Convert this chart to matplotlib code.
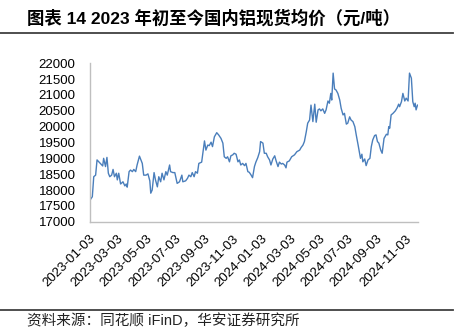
import matplotlib
matplotlib.use("Agg")
import matplotlib.pyplot as plt
import pandas as pd

plt.rcParams['font.family'] = ['Liberation Sans', 'Noto Sans CJK SC', 'DejaVu Sans']

title = "图表 14 2023 年初至今国内铝现货均价（元/吨）"
source = "资料来源：同花顺 iFinD，华安证券研究所"
start_date = "2023-01-03"

# days since 2023-01-03
day_offsets = [0, 2, 6, 9, 13, 16, 23, 28, 30, 34, 37, 40, 43, 47, 50, 53, 57, 59, 62, 66,
               71, 75, 78, 80, 84, 87, 91, 94, 98, 101, 106, 112, 115, 120, 124, 128, 130, 133, 137, 140,
               144, 147, 151, 154, 158, 162, 165, 170, 172, 177, 181, 186, 191, 196, 198, 204, 208, 211, 215, 218,
               222, 225, 229, 232, 238, 240, 244, 247, 251, 254, 258, 261, 265, 270, 274, 279, 283, 286, 290, 293,
               297, 300, 304, 307, 311, 315, 318, 321, 325, 329, 332, 336, 339, 343, 346, 350, 353, 357, 361, 363,
               368, 371, 375, 378, 382, 385, 389, 393, 396, 400, 403, 407, 410, 414, 417, 419, 424, 429, 435, 440,
               446, 449, 453, 456, 460, 463, 467, 470, 474, 478, 481, 485, 488, 491, 495, 499, 502, 506, 509, 512,
               514, 517, 520, 523, 527, 531, 534, 538, 541, 545, 548, 552, 555, 559, 563, 566, 570, 573, 575, 578,
               580, 584, 587, 591, 595, 598, 601, 605, 608, 611, 614, 618, 621, 625, 630, 633, 635, 637, 640, 644,
               649, 653, 656, 658, 662, 665, 669, 672, 676, 679, 683, 686, 689, 691, 693, 696]
prices = [18300, 17700, 17790, 18420, 18470, 18950, 18840, 18760, 19000, 18740, 19030, 18530, 18420, 18470, 18650, 18420, 18530, 18320, 18530, 18190,
          18260, 18130, 18190, 18090, 18580, 18630, 18580, 18650, 18580, 18790, 19070, 18840, 18470, 18470, 18510, 18290, 17900, 18000, 18550, 18320,
          18100, 18420, 18260, 18530, 18320, 18580, 18470, 18790, 18580, 18550, 18550, 18210, 18260, 18470, 18260, 18290, 18370, 18470, 18420, 18550,
          18420, 18580, 18530, 18840, 18880, 19110, 19550, 19260, 19420, 19400, 19510, 19370, 19680, 19810, 19740, 19630, 19480, 19050, 19000, 19050,
          18890, 19080, 19110, 19160, 19130, 18890, 18950, 18790, 18840, 18770, 18840, 18580, 18560, 18470, 18390, 18740, 18880, 19020, 19210, 19530,
          19480, 19160, 19160, 19050, 18950, 18790, 18980, 19080, 18920, 18740, 18880, 18820, 18840, 18790, 18700, 18880, 18920, 19050, 19110, 19210,
          19260, 19340, 19420, 19530, 19840, 20110, 20210, 20680, 20160, 20710, 20140, 20530, 20560, 20500, 20560, 20420, 20530, 20810, 20740, 21050,
          20840, 21690, 21190, 21160, 21050, 20840, 20580, 20370, 20420, 20080, 20110, 20310, 20210, 20160, 20000, 19740, 19420, 19160, 19000, 19130,
          18890, 18980, 18770, 18950, 19000, 19370, 19580, 19720, 19740, 19530, 19480, 19260, 19160, 19630, 19760, 19740, 20000, 19950, 20370, 20420,
          20500, 20600, 20710, 20630, 20790, 21050, 20810, 20900, 20810, 21690, 21530, 20790, 20630, 20740, 20530, 20680]

tick_labels = ["2023-01-03", "2023-03-03", "2023-05-03", "2023-07-03", "2023-09-03", "2023-11-03",
               "2024-01-03", "2024-03-03", "2024-05-03", "2024-07-03", "2024-09-03", "2024-11-03"]
y_ticks = [17000, 17500, 18000, 18500, 19000, 19500, 20000, 20500, 21000, 21500, 22000]

dates = pd.Timestamp(start_date) + pd.to_timedelta(day_offsets, unit="D")

fig = plt.figure(figsize=(4.61, 3.30), dpi=100)
ax = fig.add_axes([89.5/461, 1-221.7/330, (417.5-89.5)/461, (221.7-63.3)/330])

ax.plot(dates, prices, color="#4A7EBB", linewidth=1.0)

ax.set_ylim(17000, 22000)
ax.set_yticks(y_ticks)
ax.set_xlim(dates[0], dates[-1])
ax.set_xticks(pd.to_datetime(tick_labels))
ax.set_xticklabels(tick_labels, rotation=45, ha="right", rotation_mode="anchor")

for s in ["top", "right"]:
    ax.spines[s].set_visible(False)
for s in ["left", "bottom"]:
    ax.spines[s].set_color("#BFBFBF")
    ax.spines[s].set_linewidth(1.0)

ax.tick_params(axis="y", length=0, pad=10, labelsize=9.5, labelcolor="black")
ax.tick_params(axis="x", length=0, pad=8, labelsize=9.5, labelcolor="black")

fig.text(27/461, 1-17.5/330, title, fontsize=12.5, fontweight="bold",
         family=["Liberation Sans", "Noto Sans CJK SC"], va="center", ha="left")
fig.add_artist(plt.Line2D([0, 453/461], [1-32.5/330, 1-32.5/330], color="#404040", linewidth=1.3))
fig.add_artist(plt.Line2D([0, 453/461], [1-310/330, 1-310/330], color="#404040", linewidth=1.3))
fig.text(27/461, 1-320.5/330, source, fontsize=10.5, color="#222222",
         family=["Liberation Sans", "Noto Sans CJK SC"], va="center", ha="left")

fig.savefig("out.png", dpi=100)
